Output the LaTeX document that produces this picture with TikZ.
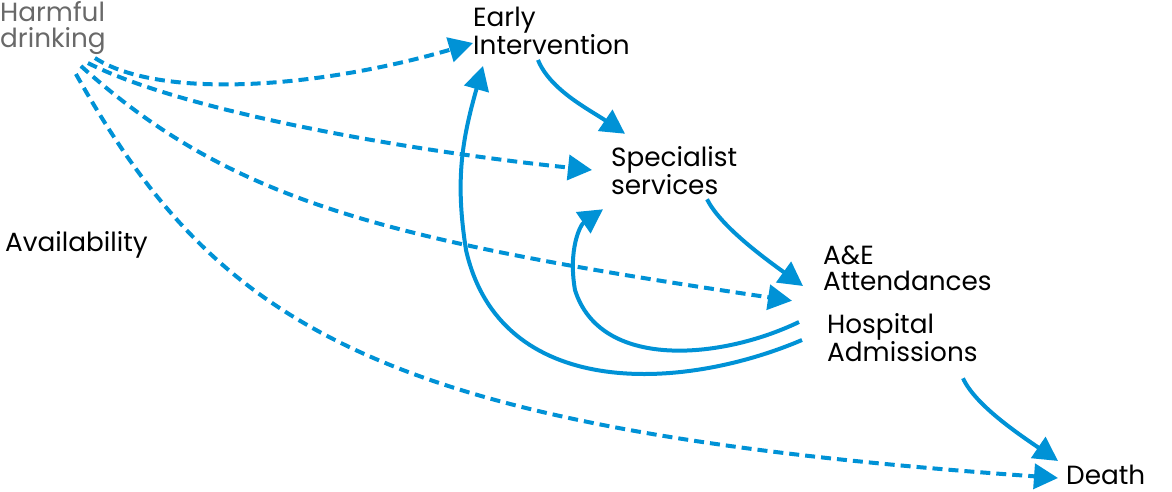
\documentclass[tikz,border=0pt]{standalone}
\usepackage{fontspec}
\setmainfont{Poppins}
\usetikzlibrary{arrows.meta,calc}
\definecolor{flowblue}{RGB}{0,146,214}
\definecolor{causegray}{RGB}{105,105,105}
\begin{document}
\begin{tikzpicture}
	[x=1pt,y=-1pt,
	every node/.style={inner sep=0pt,anchor=west,align=left,font=\fontsize{26.3}{26}\selectfont},
	flow/.style={draw=flowblue,line width=4pt,-{Triangle[length=24pt,width=25pt]}},
	risk/.style={flow,dash pattern=on 10pt off 6pt}]
	\useasboundingbox (0,0) rectangle (1172,492);
	% factors
	\node[text=causegray] (harm) at (0,28) {Harmful\\drinking};
	\node (avail) at (5,245) {Availability};
	% services
	\node (early) at (473,31) {Early\\Intervention};
	\node (spec) at (611,171) {Specialist\\services};
	\node (ae) at (823,268) {A\&E\\Attendances};
	\node (hosp) at (827,338) {Hospital\\Admissions};
	\node (death) at (1066,475) {Death};
	% harmful drinking
	\draw[risk] ($(harm.east)+(-11,30)$) .. controls (160,100) and (320,88) .. ($(early.west)+(0,12)$);
	\draw[risk] ($(harm.east)+(-18,35)$) .. controls (180,110) and (400,150) .. ($(spec.west)+(-19,-1)$);
	\draw[risk] ($(harm.east)+(-25,38)$) .. controls (230,200) and (380,240) .. ($(hosp.north west)+(-35,-13)$);
	\draw[risk] ($(harm.east)+(-30,46)$) .. controls (220,330) and (380,430) .. ($(death.west)+(-8,3)$);
	% pathway
	\draw[flow] ($(early.south west)+(65,5)$) .. controls (550,90) and (590,110) .. ($(spec.north west)+(14,-13)$);
	\draw[flow] ($(spec.south west)+(96,4)$) .. controls (720,225) and (760,255) .. ($(ae.west)+(-20,18)$);
	\draw[flow] ($(hosp.west)+(-25,2)$) .. controls (680,392) and (500,400) .. (466,250)
		.. controls (455,180) and (462,140) .. ($(early.south west)+(10,11)$);
	\draw[flow] ($(hosp.west)+(-28,-16)$) .. controls (720,360) and (600,370) .. (575,290)
		.. controls (568,250) and (580,225) .. ($(spec.south west)+(-8,14)$);
	\draw[flow] ($(hosp.south west)+(136,16)$) .. controls (975,405) and (1020,435) .. ($(death.north west)+(-8,-4)$);
\end{tikzpicture}
\end{document}
